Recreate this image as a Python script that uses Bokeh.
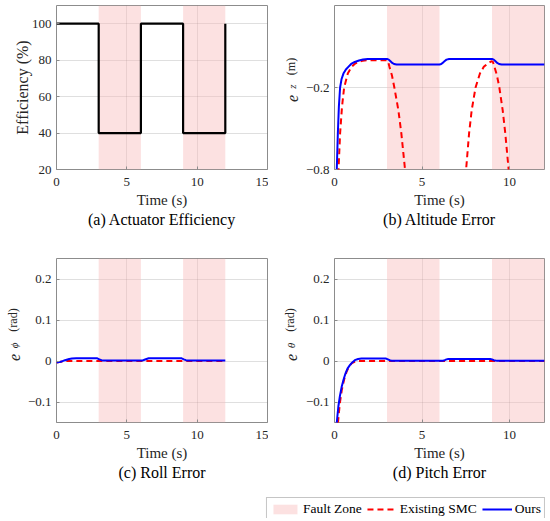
from bokeh.plotting import figure
from bokeh.models import Range1d, FixedTicker, Title, Legend, LegendItem, Spacer
from bokeh.layouts import column, row
from bokeh.embed import file_html
from bokeh.resources import INLINE

# ---------------- data ----------------
fault_start = [3, 9]
fault_end = [6, 12]

eff_t = [0, 3, 3, 6, 6, 9, 9, 12, 12]
eff_v = [100, 100, 40, 40, 100, 100, 40, 40, 100]

alt_t_ours = [0.0, 0.13, 0.19, 0.25, 0.32, 0.4, 0.51, 0.65, 0.79, 0.95, 1.16, 1.4, 1.63, 1.9,
              3.0, 3.1, 3.2, 3.3, 3.4, 3.55, 6.0, 6.1, 6.2, 6.3, 6.4, 6.55,
              9.0, 9.1, 9.2, 9.3, 9.4, 9.55, 12.0]
alt_v_ours = [-1.2, -0.8, -0.54, -0.34, -0.2, -0.14, -0.098, -0.068, -0.049, -0.028, -0.013, -0.002, 0.005, 0.009,
              0.009, 0.004, -0.008, -0.02, -0.028, -0.032, -0.032, -0.028, -0.018, -0.006, 0.004, 0.009,
              0.009, 0.004, -0.008, -0.02, -0.028, -0.032, -0.032]

alt_t_smc = [0.0, 0.23, 0.32, 0.43, 0.55, 0.76, 0.98, 1.15, 1.35, 1.6, 1.85, 3.0, 3.07, 3.14, 3.28, 3.42,
             3.65, 3.82, 4.03, 4.2, 7.35, 7.52, 7.69, 7.84, 8.06, 8.31, 8.53, 8.77, 8.96, 9.05, 9.14,
             9.28, 9.42, 9.61, 9.76, 9.95, 10.1]
alt_v_smc = [-1.2, -0.8, -0.536, -0.34, -0.2, -0.098, -0.049, -0.028, -0.013, -0.004, 0.0, 0.0, -0.015,
             -0.049, -0.11, -0.2, -0.366, -0.536, -0.8, -1.0, -1.0, -0.8, -0.536, -0.366, -0.2, -0.098,
             -0.049, -0.022, -0.008, -0.012, -0.049, -0.11, -0.2, -0.366, -0.536, -0.8, -1.0]

roll_t_ours = [0, 0.3, 0.6, 0.9, 1.1, 1.4, 2.9, 3.05, 3.2, 3.35, 6.1, 6.25, 6.4, 6.55, 8.9, 9.05, 9.2, 9.35, 12]
roll_v_ours = [-0.004, -0.002, 0.002, 0.005, 0.006, 0.0065, 0.0065, 0.004, 0.002, 0.001, 0.001, 0.003,
               0.005, 0.0065, 0.0065, 0.004, 0.002, 0.001, 0.001]
roll_t_smc = [0, 0.3, 0.6, 1.0, 12]
roll_v_smc = [-0.004, -0.002, 0.0, 0.0, 0.0]

pitch_t_ours = [0.05, 0.13, 0.22, 0.31, 0.41, 0.52, 0.63, 0.75, 0.88, 1.0, 1.16, 1.35, 1.54, 2.95, 3.05,
                3.15, 3.25, 6.2, 6.3, 6.4, 6.5, 8.9, 9.0, 9.1, 9.2, 9.3, 12]
pitch_v_ours = [-0.22, -0.15, -0.111, -0.085, -0.063, -0.045, -0.03, -0.018, -0.01, -0.004, 0.002, 0.005,
                0.006, 0.006, 0.004, 0.002, 0.0005, 0.0005, 0.002, 0.004, 0.005, 0.005, 0.004, 0.002,
                0.001, 0.0005, 0.0005]
pitch_t_smc = [0.1, 0.2, 0.3, 0.42, 0.55, 0.7, 0.85, 1.0, 1.15, 1.3, 12]
pitch_v_smc = [-0.2, -0.15, -0.105, -0.07, -0.045, -0.025, -0.012, -0.005, -0.002, 0.0, 0.0]

xticks_15 = [0, 5, 10, 15]
xticks_12 = [0, 5, 10]
eff_ticks = [20, 40, 60, 80, 100]
alt_ticks = [-0.8, -0.2]
ang_ticks = [-0.1, 0, 0.1, 0.2]

xlim_a, ylim_a = (0, 15), (20, 110)
xlim_b, ylim_b = (0, 12), (-0.8, 0.4)
xlim_c, ylim_c = (0, 15), (-0.15, 0.25)
xlim_d, ylim_d = (0, 12), (-0.15, 0.25)

captions = ["(a) Actuator Efficiency", "(b) Altitude Error", "(c) Roll Error", "(d) Pitch Error"]
x_label = "Time (s)"
y_label_a = "Efficiency (%)"
y_label_main = "e"
y_label_sym = ["z", "\u03d5", "\u03b8"]
y_label_units = ["(m)", "(rad)", "(rad)"]
legend_labels = ["Fault Zone", "Existing SMC", "Ours"]

# ---------------- style ----------------
FONT = "Liberation Serif"
PINK = "#f9bcbc"
PINK_ALPHA = 0.45
RED = "#ff0000"
BLUE = "#0000ff"
DASH = "6 4"
TXT = "#262626"


def make_fig(width, height, xlim, ylim, xticks, yticks, mbl, mbr, mbt, mbb, caption):
    p = figure(width=width, height=height, x_range=Range1d(*xlim), y_range=Range1d(*ylim),
               output_backend="svg", toolbar_location=None,
               min_border_left=mbl, min_border_right=mbr, min_border_top=mbt, min_border_bottom=mbb)
    p.xaxis.ticker = FixedTicker(ticks=xticks)
    p.yaxis.ticker = FixedTicker(ticks=yticks)
    for ax in p.axis:
        ax.axis_line_color = None
        ax.major_tick_in = 3
        ax.major_tick_out = 0
        ax.major_tick_line_color = "#8c8c8c"
        ax.minor_tick_line_color = None
        ax.major_label_text_font = FONT
        ax.major_label_text_font_size = "13px"
        ax.major_label_text_color = TXT
        ax.axis_label_text_font = FONT
        ax.axis_label_text_font_style = "normal"
        ax.axis_label_text_color = TXT
    p.yaxis.major_label_standoff = 5
    p.xaxis.major_label_standoff = 8
    p.xaxis.axis_label = x_label
    p.xaxis.axis_label_text_font_size = "15px"
    p.xaxis.axis_label_standoff = 3
    p.grid.grid_line_color = "#262626"
    p.grid.grid_line_alpha = 0.15
    p.outline_line_color = "#8c8c8c"
    p.outline_line_width = 1
    p.add_layout(Title(text=caption, align="center", text_font=FONT, text_font_size="16px",
                       text_font_style="normal", text_color="black", standoff=-4), "below")
    p.quad(left=fault_start, right=fault_end, bottom=ylim[0], top=ylim[1],
           fill_color=PINK, fill_alpha=PINK_ALPHA, line_color=None)
    return p


def vtext(width, height, text, size, style, border_left):
    """A tiny figure whose only content is a vertical (left axis) label."""
    f = figure(width=width, height=height, x_range=Range1d(0, 1), y_range=Range1d(0, 1),
               output_backend="svg", toolbar_location=None, x_axis_location=None,
               y_axis_location="left", min_border=0, min_border_left=border_left)
    f.outline_line_color = None
    f.grid.visible = False
    ax = f.yaxis[0]
    ax.ticker = FixedTicker(ticks=[])
    ax.axis_line_color = None
    ax.major_tick_in = 0
    ax.major_tick_out = 0
    ax.major_label_standoff = 0
    ax.axis_label = text
    ax.axis_label_standoff = 0
    ax.axis_label_text_font = FONT
    ax.axis_label_text_font_size = size
    ax.axis_label_text_font_style = style
    ax.axis_label_text_color = TXT
    return f


def gutter(width, height, top, h_unit, h_sub, h_e, b_unit, b_sub, b_e, sub, unit):
    rest = height - top - h_unit - h_sub - h_e
    return column(Spacer(width=width, height=top),
                  vtext(width, h_unit, unit, "12px", "normal", b_unit),
                  vtext(width, h_sub, sub, "11px", "italic", b_sub),
                  vtext(width, h_e, y_label_main, "16px", "italic", b_e),
                  Spacer(width=width, height=rest))


H1, H2 = 256, 240
pa = make_fig(268, H1, xlim_a, ylim_a, xticks_15, eff_ticks, 56, 1, 5, 87, captions[0])
gb = gutter(34, H1, 52, 28, 12, 12, 25, 29, 26, y_label_sym[0], y_label_units[0])
pb = make_fig(246, H1, xlim_b, ylim_b, xticks_12, alt_ticks, 32, 4, 5, 87, captions[1])

gc = gutter(24, H2, 44, 39, 12, 12, 15, 18, 19, y_label_sym[1], y_label_units[1])
pc = make_fig(244, H2, xlim_c, ylim_c, xticks_15, ang_ticks, 32, 1, 2, 74, captions[2])
gd = gutter(34, H2, 44, 39, 12, 12, 25, 28, 27, y_label_sym[2], y_label_units[2])
pd = make_fig(246, H2, xlim_d, ylim_d, xticks_12, ang_ticks, 32, 4, 2, 74, captions[3])

pa.yaxis.axis_label = y_label_a
pa.yaxis.axis_label_text_font_size = "16px"
pa.yaxis.axis_label_standoff = -2
for p in (pc, pd):
    p.yaxis.major_label_overrides = {0: "0"}

pa.line(eff_t, eff_v, line_color="black", line_width=2.2)

pb.line(alt_t_smc, alt_v_smc, line_color=RED, line_width=2, line_dash=DASH)
pb.line(alt_t_ours, alt_v_ours, line_color=BLUE, line_width=2)

pc.line(roll_t_smc, roll_v_smc, line_color=RED, line_width=2, line_dash=DASH)
pc.line(roll_t_ours, roll_v_ours, line_color=BLUE, line_width=2)

pd.line(pitch_t_smc, pitch_v_smc, line_color=RED, line_width=2, line_dash=DASH)
pd.line(pitch_t_ours, pitch_v_ours, line_color=BLUE, line_width=2)

# legend strip
pl = figure(width=546, height=22, x_range=Range1d(100, 101), y_range=Range1d(100, 101),
            output_backend="svg", toolbar_location=None, x_axis_location=None, y_axis_location=None,
            min_border=0)
pl.outline_line_color = None
pl.grid.visible = False
r1 = pl.quad(left=fault_start, right=fault_end, bottom=ylim_b[0], top=ylim_b[1],
             fill_color=PINK, fill_alpha=PINK_ALPHA, line_color=None)
r2 = pl.line(alt_t_smc, alt_v_smc, line_color=RED, line_width=2, line_dash=DASH)
r3 = pl.line(alt_t_ours, alt_v_ours, line_color=BLUE, line_width=2)
leg = Legend(items=[LegendItem(label=legend_labels[0], renderers=[r1]),
                    LegendItem(label=legend_labels[1], renderers=[r2]),
                    LegendItem(label=legend_labels[2], renderers=[r3])],
             orientation="horizontal", location="top_right", margin=1, padding=3,
             spacing=5, glyph_width=30, glyph_height=12, label_standoff=3, label_height=13,
             label_text_font=FONT, label_text_font_size="13.5px", label_text_color="black",
             border_line_color="#8c8c8c", border_line_width=1, background_fill_alpha=1)
pl.add_layout(leg, "center")

layout = column(row(pa, gb, pb), row(gc, pc, gd, pd), pl)
open("out.html", "w").write(file_html(layout, INLINE))
